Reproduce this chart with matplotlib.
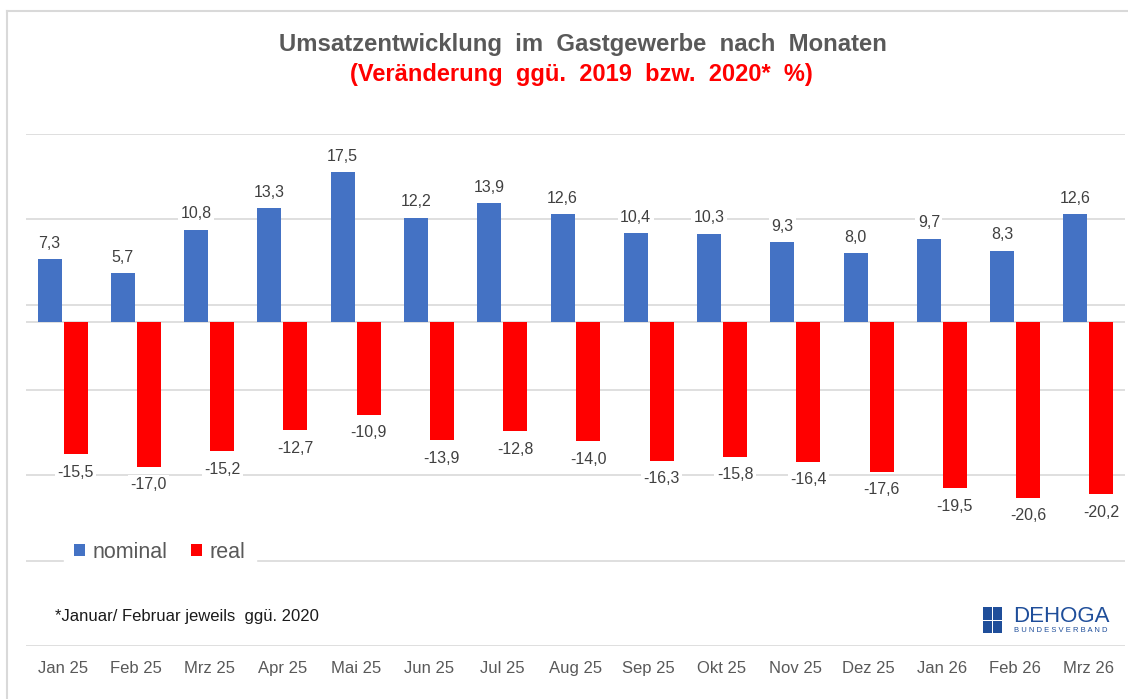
import numpy as np
import matplotlib
matplotlib.use('Agg')
import matplotlib.pyplot as plt
from matplotlib.patches import Rectangle
from matplotlib.lines import Line2D

plt.rcParams['font.family'] = ['Liberation Sans', 'DejaVu Sans']

# Data
months = ['Jan 25', 'Feb 25', 'Mrz 25', 'Apr 25', 'Mai 25', 'Jun 25', 'Jul 25', 'Aug 25',
          'Sep 25', 'Okt 25', 'Nov 25', 'Dez 25', 'Jan 26', 'Feb 26', 'Mrz 26']
nominal = [7.3, 5.7, 10.8, 13.3, 17.5, 12.2, 13.9, 12.6, 10.4, 10.3, 9.3, 8.0, 9.7, 8.3, 12.6]
real = [-15.5, -17.0, -15.2, -12.7, -10.9, -13.9, -12.8, -14.0, -16.3, -15.8, -16.4, -17.6,
        -19.5, -20.6, -20.2]
grid_vals = [22, 12, 2, -8, -18, -28, -38]

BLUE = '#4472C4'
RED = '#FF0000'
GRID = '#d9d9d9'
W, H = 1128, 699

fig = plt.figure(figsize=(W / 100, H / 100), dpi=100)
ax = fig.add_axes([26 / W, 1 - 646 / H, 1099 / W, 512 / H])

x = np.arange(len(months))
bw = 0.327
off = 0.177
ax.bar(x - off, nominal, bw, color=BLUE, zorder=2, label='nominal')
ax.bar(x + off, real, bw, color=RED, zorder=2, label='real')

ax.set_xlim(-0.5, len(months) - 0.5)
ax.set_ylim(grid_vals[-1], grid_vals[0])
ax.set_yticks(grid_vals)
ax.set_yticklabels([])
ax.grid(axis='y', color=GRID, linewidth=1.2, zorder=0)
ax.axhline(0, color=GRID, linewidth=1.2, zorder=1)
for s in ax.spines.values():
    s.set_visible(False)
ax.set_xticks(x)
ax.set_xticklabels(months, fontsize=12, color='#595959')
ax.tick_params(axis='both', length=0)
ax.tick_params(axis='x', pad=11)


def fmt(v):
    return f'{v:.1f}'.replace('.', ',')


lbl_box = dict(boxstyle='square,pad=0.15', facecolor='white', edgecolor='none')
for i, v in enumerate(nominal):
    ax.annotate(fmt(v), (x[i] - off, v), xytext=(0, 11.5), textcoords='offset points',
                ha='center', va='center', fontsize=11.5, color='#404040', bbox=lbl_box, zorder=3)
for i, v in enumerate(real):
    ax.annotate(fmt(v), (x[i] + off, v), xytext=(0, -13), textcoords='offset points',
                ha='center', va='center', fontsize=11.5, color='#404040', bbox=lbl_box, zorder=3)

# titles
fig.text(583 / W, 1 - 45 / H, 'Umsatzentwicklung  im  Gastgewerbe  nach  Monaten', ha='center',
         va='center', fontsize=17.2, fontweight='bold', color='#595959')
fig.text(581 / W, 1 - 74 / H, '(Veränderung  ggü.  2019  bzw.  2020*  %)', ha='center',
         va='center', fontsize=17, fontweight='bold', color=RED)

# legend
leg = fig.legend(loc='center', bbox_to_anchor=(160 / W, 1 - 552 / H), ncol=2, fontsize=15.5,
                 frameon=True, fancybox=False, framealpha=1, edgecolor='white',
                 handlelength=0.5, handleheight=0.5, handletextpad=0.35, columnspacing=1.1,
                 borderpad=0.5)
for t in leg.get_texts():
    t.set_color('#595959')

# footnote
fig.text(55 / W, 1 - 616 / H, '*Januar/ Februar jeweils  ggü. 2020', ha='left', va='center',
         fontsize=12, color='#1a1a1a')

# DEHOGA logo (simplified)
LOGO = '#1f4e9a'
fig.patches.append(Rectangle((983 / W, 1 - 633 / H), 19 / W, 26 / H, transform=fig.transFigure,
                             facecolor=LOGO, edgecolor='none'))
fig.patches.append(Rectangle((992 / W, 1 - 633 / H), 1 / W, 26 / H, transform=fig.transFigure,
                             facecolor='white', edgecolor='none'))
fig.patches.append(Rectangle((983 / W, 1 - 620.5 / H), 19 / W, 1 / H, transform=fig.transFigure,
                             facecolor='white', edgecolor='none'))
fig.text(1013 / W, 1 - 617 / H, 'DEHOGA', ha='left', va='center', fontsize=16, color=LOGO)
fig.text(1014 / W, 1 - 631 / H, 'B U N D E S V E R B A N D', ha='left', va='center',
         fontsize=5.5, color=LOGO)

# outer frame (top and left only)
fig.lines.append(Line2D([6.5 / W, 6.5 / W], [0, 1 - 10.5 / H], transform=fig.transFigure,
                        color=GRID, linewidth=1.5))
fig.lines.append(Line2D([6.5 / W, 1], [1 - 10.5 / H, 1 - 10.5 / H], transform=fig.transFigure,
                        color=GRID, linewidth=1.5))

fig.savefig('out.png', dpi=100)
